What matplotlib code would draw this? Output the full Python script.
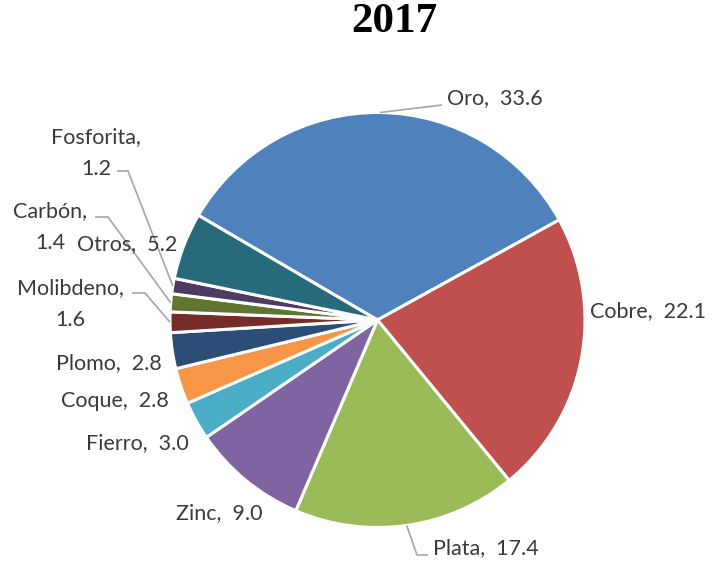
import matplotlib
matplotlib.use("Agg")
import matplotlib.pyplot as plt
import numpy as np

title = "2017"
categories = ["Oro", "Cobre", "Plata", "Zinc", "Fierro", "Coque", "Plomo",
              "Molibdeno", "Carbón", "Fosforita", "Otros"]
values = [33.6, 22.1, 17.4, 9.0, 3.0, 2.8, 2.8, 1.6, 1.4, 1.2, 5.2]
colors = ["#4F81BD", "#C0504D", "#9BBB59", "#8064A2", "#4BACC6", "#F79646",
          "#2C4D75", "#772C2A", "#5F7530", "#4D3B62", "#276A7C"]

W, H = 719, 561
fig = plt.figure(figsize=(W / 100, H / 100), dpi=100)
ax = fig.add_axes([0, 0, 1, 1])

cx, cy, R = 377.5, H - 320, 207.5
start = 149.7
wedges, _ = ax.pie(values, colors=colors, startangle=start, counterclock=False,
                   center=(cx, cy), radius=R,
                   wedgeprops=dict(edgecolor="white", linewidth=2.2))
ax.set_xlim(0, W)
ax.set_ylim(0, H)
ax.set_aspect("equal")
ax.axis("off")

FONT = "Lato"
TC = "#3A3A3A"
LC = "#A6A6A6"
fs = 15.5

def fmt(i, two_line=False):
    sep = "\n" if two_line else "  "
    return f"{categories[i]},{sep}{values[i]:.1f}"

# label placements: (x_px, y_px, ha, two_line, elbow list in px or None)
place = {
    "Oro": (447, 98, "left", False, [(442, 105)]),
    "Cobre": (590, 311, "left", False, None),
    "Plata": (433, 548, "left", False, [(417, 555), (428, 555)]),
    "Zinc": (262, 513, "right", False, None),
    "Fierro": (189, 443, "right", False, None),
    "Coque": (169, 401, "right", False, None),
    "Plomo": (162, 363, "right", False, None),
    "Molibdeno": (70, 304, "center", True, [(145, 293), (132, 293)]),
    "Carbón": (50, 227, "center", True, [(108, 217), (95, 217)]),
    "Fosforita": (96, 153, "center", True, [(128, 171), (117, 171)]),
    "Otros": (77, 244, "left", False, None),
}

for i, w in enumerate(wedges):
    name = categories[i]
    x, y, ha, two, elbow = place[name]
    ax.text(x, H - y, fmt(i, two), ha=ha, va="center", fontsize=fs,
            family=FONT, color=TC, linespacing=1.75)
    if elbow:
        ang = np.deg2rad((w.theta1 + w.theta2) / 2)
        px, py = cx + R * np.cos(ang), cy + R * np.sin(ang)
        xs = [px] + [e[0] for e in elbow]
        ys = [py] + [H - e[1] for e in elbow]
        ax.plot(xs, ys, color=LC, lw=1.2, solid_capstyle="butt")

fig.text(394 / W, 1 - 22 / H, title, ha="center", va="center", fontsize=31,
         fontweight="bold", family="Liberation Serif", color="black")

fig.savefig("out.png", dpi=100, facecolor="white")
